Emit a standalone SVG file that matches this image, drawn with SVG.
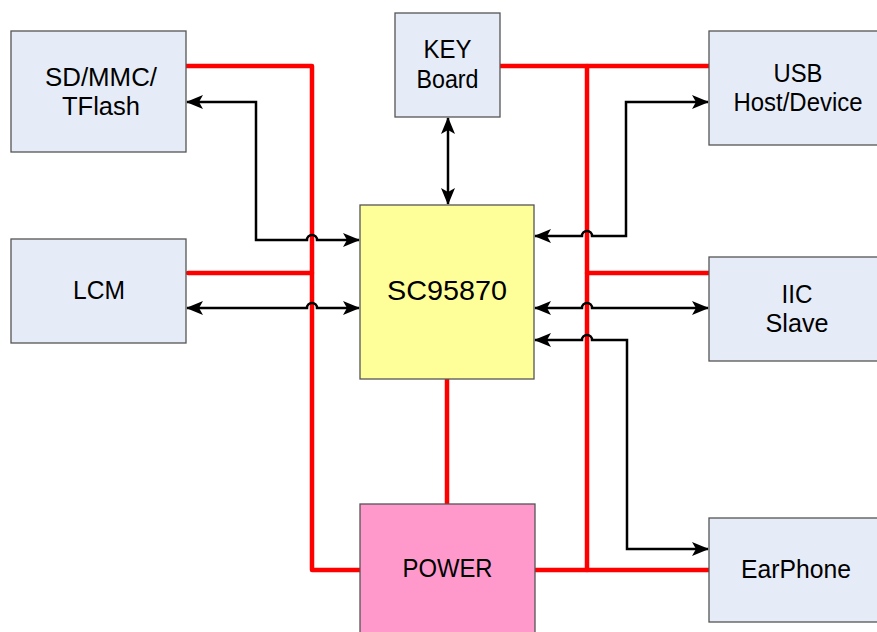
<svg xmlns="http://www.w3.org/2000/svg" width="877" height="632" viewBox="0 0 877 632">
<defs>
<marker id="ah" viewBox="0 0 17 14" refX="16" refY="7" markerWidth="17" markerHeight="14" markerUnits="userSpaceOnUse" orient="auto-start-reverse">
<path d="M0,0 L17,7 L0,14 L4,7 Z" fill="#000"/>
</marker>
<style>
.box{fill:#E6ECF7;stroke:#555;stroke-width:1.3}
.t{font-family:"Liberation Sans",Arial,sans-serif;font-size:25px;fill:#000;text-anchor:middle}
.red{stroke:#FF0000;stroke-width:4.5;fill:none;stroke-linecap:round;stroke-linejoin:round}
.blk{stroke:#000;stroke-width:2.5;fill:none;marker-start:url(#ah);marker-end:url(#ah)}
</style>
</defs>
<rect width="877" height="632" fill="#fff"/>
<g id="power-lines">
<path class="red" d="M186,66 H312 V570 H360"/>
<path class="red" d="M188,273 H312"/>
<path class="red" d="M500,66 H709"/>
<path class="red" d="M587,66 V570"/>
<path class="red" d="M587,273 H709"/>
<path class="red" d="M535,570 H709"/>
<path class="red" d="M447,379 V504"/>
</g>
<g id="signal-lines">
<path class="blk" d="M187,102 H256 V240 H307 A5,5 0 0 1 317,240 H359"/>
<path class="blk" d="M187,308 H307 A5,5 0 0 1 317,308 H359"/>
<path class="blk" d="M448,118 V204"/>
<path class="blk" d="M535,236 H582 A5,5 0 0 1 592,236 H626 V102 H708"/>
<path class="blk" d="M535,308 H582 A5,5 0 0 1 592,308 H708"/>
<path class="blk" d="M535,340 H582 A5,5 0 0 1 592,340 H627 V549 H708"/>
</g>
<g id="sd"><rect class="box" x="11" y="31" width="175" height="121"/><text class="t" x="101" y="86" textLength="112" lengthAdjust="spacingAndGlyphs">SD/MMC/</text><text class="t" x="101" y="115" textLength="78" lengthAdjust="spacingAndGlyphs">TFlash</text></g>
<g id="lcm"><rect class="box" x="11" y="239" width="175" height="104"/><text class="t" x="99" y="299" textLength="52" lengthAdjust="spacingAndGlyphs">LCM</text></g>
<g id="key"><rect class="box" x="395" y="13" width="105" height="104"/><text class="t" x="447.5" y="58" textLength="48" lengthAdjust="spacingAndGlyphs">KEY</text><text class="t" x="447.5" y="88" textLength="62" lengthAdjust="spacingAndGlyphs">Board</text></g>
<g id="usb"><rect class="box" x="709" y="31" width="176" height="114"/><text class="t" x="798" y="82" textLength="49" lengthAdjust="spacingAndGlyphs">USB</text><text class="t" x="798" y="111" textLength="129" lengthAdjust="spacingAndGlyphs">Host/Device</text></g>
<g id="iic"><rect class="box" x="709" y="257" width="176" height="104"/><text class="t" x="797" y="303" textLength="31" lengthAdjust="spacingAndGlyphs">IIC</text><text class="t" x="797" y="332" textLength="63" lengthAdjust="spacingAndGlyphs">Slave</text></g>
<g id="earphone"><rect class="box" x="709" y="518" width="176" height="104"/><text class="t" x="796" y="578" textLength="110" lengthAdjust="spacingAndGlyphs">EarPhone</text></g>
<g id="sc"><rect x="360" y="205" width="174" height="174" fill="#FFFF99" stroke="#555" stroke-width="1.3"/><text class="t" x="447" y="300" style="font-size:28px" textLength="120" lengthAdjust="spacingAndGlyphs">SC95870</text></g>
<g id="power"><rect x="360" y="504" width="175" height="140" fill="#FF99CC" stroke="#555" stroke-width="1.3"/><text class="t" x="447.5" y="577" textLength="90" lengthAdjust="spacingAndGlyphs">POWER</text></g>
</svg>
